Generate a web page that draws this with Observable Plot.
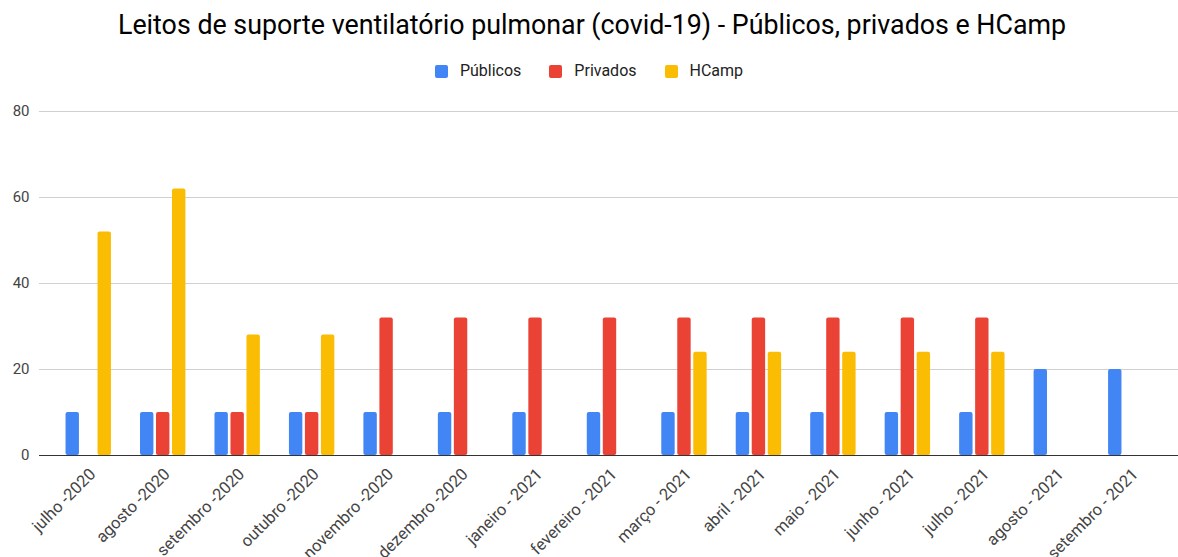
<!DOCTYPE html>
<html><head><meta charset="utf-8">
<script src="https://cdn.jsdelivr.net/npm/d3@7"></script>
<script src="https://cdn.jsdelivr.net/npm/@observablehq/plot@0.6"></script>
<style>
body{margin:0;background:#fff;font-family:Roboto,sans-serif;}
#wrap{position:relative;width:1178px;height:557px;overflow:hidden;background:#fff;}
#title{position:absolute;top:6px;left:3px;width:1178px;text-align:center;font-size:26.8px;color:#000;line-height:38px;white-space:nowrap;}
#legend{position:absolute;top:61px;left:0px;width:1178px;display:flex;justify-content:center;font-size:16px;color:#222;line-height:20px;}
.item{display:flex;align-items:center;margin:0 14px;}
.sw{width:13px;height:13px;border-radius:2px;margin-right:12px;}
#chart{position:absolute;top:90px;left:0;}
</style>
</head><body>
<div id="wrap">
<div id="title">Leitos de suporte ventilatório pulmonar (covid-19) - Públicos, privados e HCamp</div>
<div id="legend"></div>
<div id="chart"></div>
</div>
<script>
const months = ["julho -2020","agosto -2020","setembro -2020","outubro -2020","novembro -2020","dezembro -2020","janeiro - 2021","fevereiro - 2021","março - 2021","abril - 2021","maio - 2021","junho - 2021","julho - 2021","agosto - 2021","setembro - 2021"];
const seriesNames = ["Públicos","Privados","HCamp"];
const seriesColors = ["#4285F4","#EA4335","#FBBC04"];
const publicos = [10,10,10,10,10,10,10,10,10,10,10,10,10,20,20];
const privados = [null,10,10,10,32,32,32,32,32,32,32,32,32,null,null];
const hcamp = [52,62,28,28,null,null,null,null,24,24,24,24,24,null,null];
const yTicks = [0,20,40,60,80];

const seriesValues = [publicos, privados, hcamp];
const table = [];
seriesNames.forEach((s, i) => months.forEach((m, j) => {
  if (seriesValues[i][j] != null) table.push({month: m, series: s, value: seriesValues[i][j]});
}));

const legend = document.getElementById("legend");
seriesNames.forEach((s, i) => {
  const it = document.createElement("div"); it.className = "item";
  const sw = document.createElement("div"); sw.className = "sw"; sw.style.background = seriesColors[i];
  const tx = document.createElement("span"); tx.textContent = s;
  it.appendChild(sw); it.appendChild(tx); legend.appendChild(it);
});

const mL = 51, mR = 10;
const barW = 13.4, step = 16;
const bandW = (1178 - mL - mR) / months.length;
const inset = (bandW - barW) / 2;

const plot = Plot.plot({
  width: 1178, height: 467,
  marginLeft: mL, marginRight: mR, marginTop: 21, marginBottom: 102,
  x: {domain: months, padding: 0, round: false, label: null},
  y: {domain: [0, 80], label: null},
  style: {fontFamily: "Roboto, sans-serif", fontSize: "15px", color: "#444", background: "white"},
  marks: [
    Plot.ruleY(yTicks.filter(d => d > 0), {stroke: "#d0d0d0", strokeWidth: 1, insetLeft: -12, insetRight: -10}),
    ...seriesNames.map((s, i) => Plot.barY(table.filter(d => d.series === s), {
      x: "month", y: "value", fill: seriesColors[i],
      insetLeft: inset, insetRight: inset, dx: (i - 1) * step, rx: 2
    })),
    Plot.ruleY([0], {stroke: "#333", strokeWidth: 1.2, insetLeft: -12, insetRight: -10}),
    Plot.axisY({ticks: yTicks, tickSize: 0, tickPadding: 22, label: null, fill: "#444"}),
    Plot.axisX({tickSize: 0, tickRotate: -45, tickPadding: 16, dx: 4, label: null, fill: "#444", fontSize: 16.5})
  ]
});
document.getElementById("chart").appendChild(plot);
</script>
</body></html>
